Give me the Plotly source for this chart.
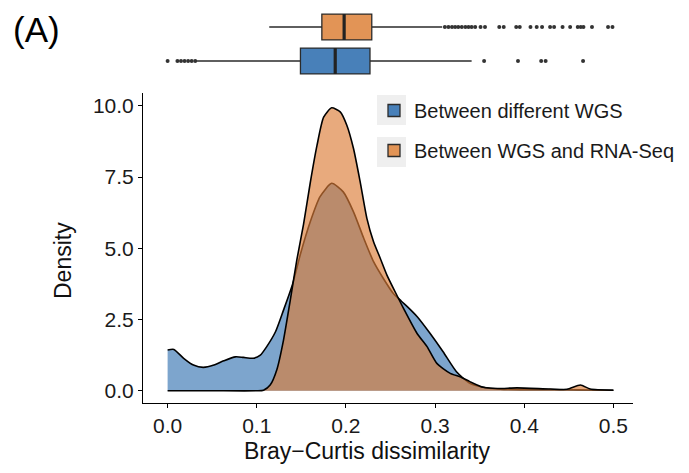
import plotly.graph_objects as go

# ---------------- data ----------------
series_names = ["Between different WGS", "Between WGS and RNA-Seq"]

# density curve: between different WGS (blue)
wgs_x = [0.000, 0.007, 0.018, 0.029, 0.040, 0.052, 0.063, 0.076, 0.085, 0.096,
         0.104, 0.111, 0.121, 0.130, 0.140, 0.149, 0.160, 0.171, 0.184, 0.197,
         0.2085, 0.220, 0.231, 0.242, 0.253, 0.262, 0.270, 0.280, 0.2945, 0.309,
         0.324, 0.339, 0.354, 0.373, 0.400, 0.430, 0.460, 0.500]
wgs_y = [1.43, 1.45, 1.14, 0.90, 0.82, 0.90, 1.05, 1.19, 1.17, 1.14,
         1.25, 1.54, 2.07, 2.83, 3.72, 4.80, 5.93, 6.81, 7.28, 6.98,
         6.28, 5.35, 4.53, 3.94, 3.42, 3.15, 2.92, 2.60, 2.01, 1.37,
         0.67, 0.26, 0.12, 0.05, 0.04, 0.04, 0.03, 0.02]

# density curve: between WGS and RNA-Seq (orange)
rna_x = [0.000, 0.050, 0.100, 0.1076, 0.115, 0.1226, 0.130, 0.1376, 0.145, 0.1525,
         0.160, 0.1675, 0.175, 0.184, 0.1936, 0.201, 0.2085, 0.216, 0.2235, 0.231,
         0.2385, 0.246, 0.257, 0.2646, 0.280, 0.291, 0.302, 0.317, 0.328, 0.339,
         0.354, 0.370, 0.392, 0.429, 0.448, 0.463, 0.474, 0.500]
rna_y = [0.00, 0.00, 0.00, 0.02, 0.20, 0.75, 1.78, 3.18, 4.60, 5.85,
         7.30, 8.60, 9.60, 9.93, 9.79, 9.32, 8.50, 7.33, 6.05, 5.23,
         4.65, 4.06, 3.36, 2.89, 2.00, 1.55, 0.96, 0.61, 0.49, 0.32,
         0.12, 0.08, 0.10, 0.06, 0.05, 0.20, 0.06, 0.02]

# box-plot summaries [lower whisker, q1, median, q3, upper whisker]
wgs_box = [0.033, 0.149, 0.188, 0.227, 0.341]
rna_box = [0.114, 0.173, 0.198, 0.229, 0.308]
wgs_outliers = [0.000, 0.011, 0.015, 0.019, 0.023, 0.027, 0.031,
                0.355, 0.393, 0.419, 0.424, 0.466]
rna_outliers = [0.311, 0.315, 0.319, 0.3225, 0.326, 0.330, 0.334, 0.3375, 0.341, 0.345,
                0.351, 0.356, 0.372, 0.377, 0.391, 0.395, 0.407, 0.414, 0.420,
                0.429, 0.4335, 0.443, 0.4515, 0.460, 0.4634, 0.4664, 0.476, 0.494, 0.499]

x_ticks = [0.0, 0.1, 0.2, 0.3, 0.4, 0.5]
y_ticks = [0.0, 2.5, 5.0, 7.5, 10.0]
y_tick_labels = ["0.0", "2.5", "5.0", "7.5", "10.0"]

# ---------------- style ----------------
FONT = "Arial, Liberation Sans, sans-serif"
blue_fill = "rgba(55,117,178,0.65)"
orange_fill = "rgba(220,124,55,0.65)"
blue_box = "rgb(72,128,185)"
orange_box = "rgb(226,148,86)"
box_line = "#2b2b2b"

W, H = 689, 473
ML, MR, MT, MB = 143, 56, 5, 70
PH = H - MT - MB


def px_x(p):
    return (p - ML) / (W - ML - MR)


def px_y(p):
    return (H - MB - p) / PH


fig = go.Figure()

# density traces (blue first, orange on top)
fig.add_trace(go.Scatter(x=wgs_x, y=wgs_y, mode="lines", fill="tozeroy",
                         fillcolor=blue_fill, showlegend=False, hoverinfo="skip",
                         line=dict(color="black", width=1.6, shape="spline", smoothing=0.6)))
fig.add_trace(go.Scatter(x=rna_x, y=rna_y, mode="lines", fill="tozeroy",
                         fillcolor=orange_fill, showlegend=False, hoverinfo="skip",
                         line=dict(color="black", width=1.6, shape="spline", smoothing=0.6)))

# box plots
box_specs = [
    (series_names[0], wgs_box, wgs_outliers, blue_box, 0),
    (series_names[1], rna_box, rna_outliers, orange_box, 1),
]
BW = 0.76
for name, st, outl, col, pos in box_specs:
    fig.add_trace(go.Box(
        name=name, orientation="h", y=[pos],
        lowerfence=[st[0]], q1=[st[1]], median=[st[2]], q3=[st[3]], upperfence=[st[4]],
        width=BW, fillcolor=col, line=dict(color=box_line, width=1.3),
        boxpoints=False, whiskerwidth=0, xaxis="x2", yaxis="y2",
        legendgroup=name, showlegend=True, hoverinfo="skip"))
    fig.add_trace(go.Scatter(
        x=[st[2], st[2]], y=[pos - BW / 2, pos + BW / 2], mode="lines",
        line=dict(color="#222222", width=3.2), xaxis="x2", yaxis="y2",
        showlegend=False, hoverinfo="skip"))
    fig.add_trace(go.Scatter(
        x=outl, y=[pos] * len(outl), mode="markers",
        marker=dict(color="#333333", size=4), xaxis="x2", yaxis="y2",
        showlegend=False, hoverinfo="skip"))

# grey legend key backgrounds
shapes = []
for cy in (110, 152):
    shapes.append(dict(type="rect", xref="paper", yref="paper",
                       x0=px_x(377), x1=px_x(406), y0=px_y(cy + 15), y1=px_y(cy - 15),
                       fillcolor="#EFEFEF", line=dict(width=0), layer="below"))

annotations = [
    dict(text="(A)", x=px_x(11), y=px_y(29), xref="paper", yref="paper",
         xanchor="left", yanchor="middle", showarrow=False,
         font=dict(family=FONT, size=35, color="black")),
    dict(text="Bray\u2212Curtis dissimilarity", x=px_x(367), y=px_y(451),
         xref="paper", yref="paper", xanchor="center", yanchor="middle",
         showarrow=False, font=dict(family=FONT, size=23, color="#111111")),
    dict(text="Density", x=px_x(63), y=px_y(261), xref="paper", yref="paper",
         xanchor="center", yanchor="middle", textangle=-90, showarrow=False,
         font=dict(family=FONT, size=23, color="#111111")),
]

fig.update_layout(
    width=W, height=H,
    margin=dict(l=ML, r=MR, t=MT, b=MB),
    paper_bgcolor="white", plot_bgcolor="white",
    font=dict(family=FONT, color="#1a1a1a"),
    showlegend=True,
    legend=dict(x=px_x(374), y=px_y(91), xanchor="left", yanchor="top",
                bgcolor="rgba(0,0,0,0)", font=dict(family=FONT, size=20, color="#1a1a1a"),
                tracegroupgap=11, traceorder="grouped"),
    xaxis=dict(domain=[0, 1], range=[-0.0276, 0.522], tickvals=x_ticks,
               ticktext=[f"{v:.1f}" for v in x_ticks], showgrid=False, zeroline=False,
               showline=True, linecolor="black", linewidth=1.1, ticks="outside",
               ticklen=4, tickcolor="black", tickfont=dict(size=21, color="#1a1a1a"),
               anchor="y"),
    yaxis=dict(domain=[0, px_y(93)], range=[-0.43, 10.45], tickvals=y_ticks,
               ticktext=y_tick_labels, showgrid=False, zeroline=False,
               showline=True, linecolor="black", linewidth=1.1, ticks="outside",
               ticklen=4, tickcolor="black", tickfont=dict(size=21, color="#1a1a1a"),
               anchor="x"),
    xaxis2=dict(matches="x", anchor="y2", visible=False, showgrid=False),
    yaxis2=dict(domain=[px_y(80), 1.0], range=[-0.559, 1.647], visible=False,
                showgrid=False, anchor="x2"),
    shapes=shapes,
    annotations=annotations,
)

fig.write_html("out.html")
